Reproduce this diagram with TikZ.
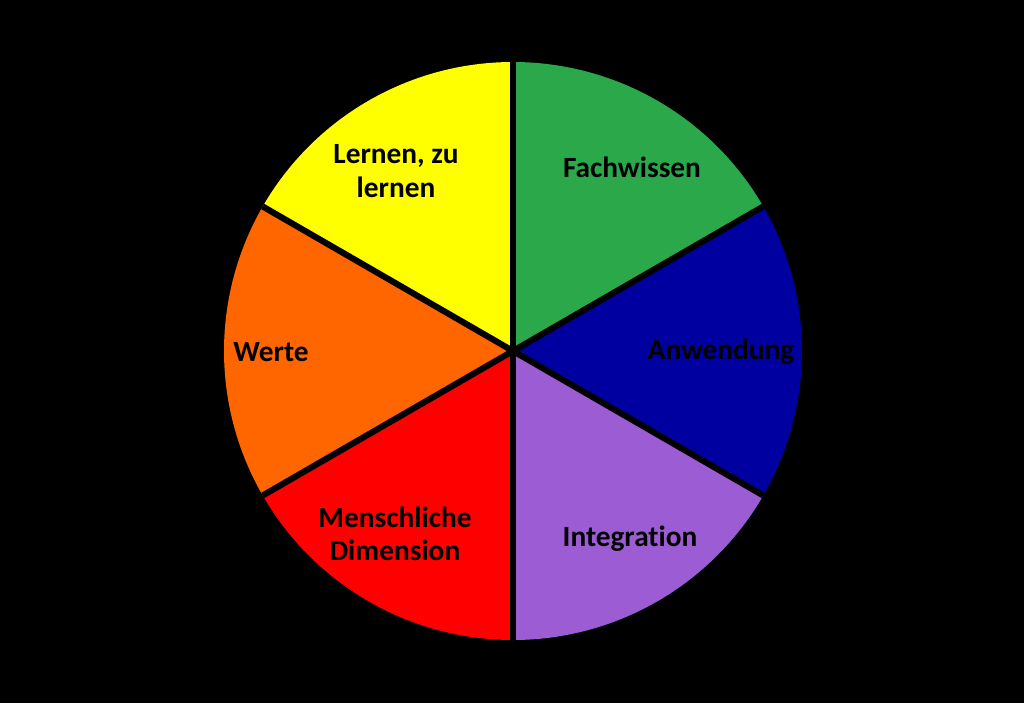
\documentclass[tikz,border=0pt]{standalone}
\usepackage{fontspec}
\setmainfont{Carlito}[Ligatures=NoCommon]
\usepackage{xcolor}
\usepackage{tikz}

\definecolor{fachgreen}{RGB}{43,168,74}
\definecolor{anwblue}{RGB}{0,0,160}
\definecolor{intpurple}{RGB}{156,92,212}
\definecolor{menred}{RGB}{255,0,0}
\definecolor{werteorange}{RGB}{255,102,0}
\definecolor{lernyellow}{RGB}{255,255,0}

\tikzset{
  sectortext/.style={inner sep=0.75pt, align=center, text=black,
    font=\bfseries\fontsize{22}{25}\selectfont},
  divider/.style={draw=black, line width=4.6pt}
}

\begin{document}
\begin{tikzpicture}[x=0.75pt,y=0.75pt,yscale=-1,xscale=1]
        \fill[black] (0,0) rectangle (1024,703);
        \useasboundingbox (0,0) rectangle (1024,703);
        \coordinate (c) at (513,351);

        % sectors
        \fill[fachgreen]   (c) -- ++(-90:289) arc[start angle=-90, end angle=-30, radius=289] -- cycle;
        \fill[anwblue]     (c) -- ++(-30:289) arc[start angle=-30, end angle=30, radius=289] -- cycle;
        \fill[intpurple]   (c) -- ++(30:289) arc[start angle=30, end angle=90, radius=289] -- cycle;
        \fill[menred]      (c) -- ++(90:289) arc[start angle=90, end angle=150, radius=289] -- cycle;
        \fill[werteorange] (c) -- ++(150:289) arc[start angle=150, end angle=210, radius=289] -- cycle;
        \fill[lernyellow]  (c) -- ++(210:289) arc[start angle=210, end angle=270, radius=289] -- cycle;

        % dividers
        \draw[divider] (c) -- ++(-90:289);
        \draw[divider] (c) -- ++(-30:289);
        \draw[divider] (c) -- ++(30:289);
        \draw[divider] (c) -- ++(90:289);
        \draw[divider] (c) -- ++(150:289);
        \draw[divider] (c) -- ++(210:289);

        \node[sectortext] (fach) at (632,167) {Fachwissen};
        \node[sectortext] (anw) at (721,352) {Anwendung};
        \node[sectortext] (integ) at (630,539) {Integration};
        \node[sectortext] (mensch) at (395,534) {Menschliche\\Dimension};
        \node[sectortext] (werte) at (271,352) {Werte};
        \node[sectortext] (lernen) at (396,171) {Lernen, zu\\lernen};
    \end{tikzpicture}
\end{document}
